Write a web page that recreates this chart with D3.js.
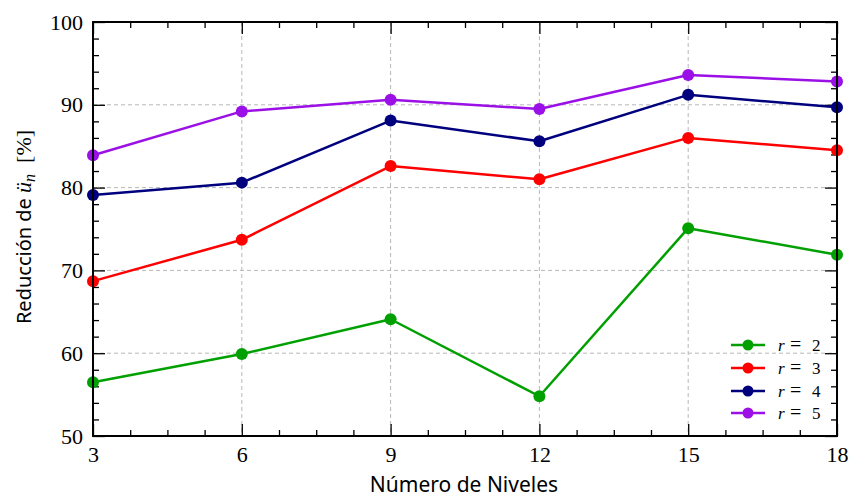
<!DOCTYPE html>
<html>
<head>
<meta charset="utf-8">
<script src="https://cdn.jsdelivr.net/npm/d3@7"></script>
<style>
  html, body { margin: 0; padding: 0; background: #fff; }
  svg { display: block; }
</style>
</head>
<body>
<svg id="chart" width="853" height="499"></svg>
<script>
// Number of levels on the x axis
const niveles = [3, 6, 9, 12, 15, 18];

// Reduction (%) for each value of r
const r2 = [56.5, 59.9, 64.1, 54.8, 75.1, 71.9];
const r3 = [68.7, 73.7, 82.6, 81.0, 86.0, 84.5];
const r4 = [79.1, 80.6, 88.1, 85.6, 91.2, 89.7];
const r5 = [83.9, 89.2, 90.6, 89.5, 93.6, 92.8];

const seriesNames = ["2", "3", "4", "5"];
const seriesValues = [r2, r3, r4, r5];
const seriesColors = ["#00a000", "#ff0000", "#00007f", "#9a10e6"];

const xTicks = [3, 6, 9, 12, 15, 18];
const yTicks = [50, 60, 70, 80, 90, 100];

const serif = "'Liberation Serif', 'DejaVu Serif', serif";
const sans = "'Noto Sans', 'DejaVu Sans', sans-serif";

const svg = d3.select("#chart");
const pLeft = 93, pRight = 837, pTop = 22, pBottom = 436;

const x = d3.scaleLinear().domain([3, 18]).range([pLeft, pRight]);
const y = d3.scaleLinear().domain([50, 100]).range([pBottom, pTop]);

const xMinor = d3.range(3, 18.001, 0.75).filter(v => !xTicks.includes(v));
const yMinor = d3.range(50, 100.001, 2).filter(v => !yTicks.includes(v));

// dashed grid at the interior major ticks
const grid = svg.append("g").attr("stroke", "#b8b8b8").attr("stroke-width", 1).attr("stroke-dasharray", "4,3");
grid.selectAll("line.gx").data(xTicks.slice(1, -1)).join("line")
  .attr("x1", d => x(d)).attr("x2", d => x(d)).attr("y1", pTop).attr("y2", pBottom);
grid.selectAll("line.gy").data(yTicks.slice(1, -1)).join("line")
  .attr("x1", pLeft).attr("x2", pRight).attr("y1", d => y(d)).attr("y2", d => y(d));

// axes: ticks point inward on all four sides
const major = 12, minor = 6;
function styleAxis(g) {
  g.select(".domain").remove();
  g.attr("font-family", serif).attr("font-size", 22);
  g.selectAll(".tick line").attr("stroke", "#000").attr("stroke-width", 1.3);
  g.selectAll(".tick text").attr("fill", "#000");
}
svg.append("g").attr("transform", `translate(0,${pBottom})`)
  .call(d3.axisBottom(x).tickValues(xTicks).tickSize(-major).tickPadding(10).tickFormat(d3.format("d")))
  .call(styleAxis);
svg.append("g").attr("transform", `translate(0,${pBottom})`)
  .call(d3.axisBottom(x).tickValues(xMinor).tickSize(-minor).tickFormat(""))
  .call(styleAxis);
svg.append("g").attr("transform", `translate(0,${pTop})`)
  .call(d3.axisTop(x).tickValues(xTicks).tickSize(-major).tickFormat(""))
  .call(styleAxis);
svg.append("g").attr("transform", `translate(0,${pTop})`)
  .call(d3.axisTop(x).tickValues(xMinor).tickSize(-minor).tickFormat(""))
  .call(styleAxis);
svg.append("g").attr("transform", `translate(${pLeft},0)`)
  .call(d3.axisLeft(y).tickValues(yTicks).tickSize(-major).tickPadding(10).tickFormat(d3.format("d")))
  .call(styleAxis);
svg.append("g").attr("transform", `translate(${pLeft},0)`)
  .call(d3.axisLeft(y).tickValues(yMinor).tickSize(-minor).tickFormat(""))
  .call(styleAxis);
svg.append("g").attr("transform", `translate(${pRight},0)`)
  .call(d3.axisRight(y).tickValues(yTicks).tickSize(-major).tickFormat(""))
  .call(styleAxis);
svg.append("g").attr("transform", `translate(${pRight},0)`)
  .call(d3.axisRight(y).tickValues(yMinor).tickSize(-minor).tickFormat(""))
  .call(styleAxis);

// series lines and markers
const line = d3.line().x((d, i) => x(niveles[i])).y(d => y(d));
const plot = svg.append("g");
seriesValues.forEach((vals, k) => {
  plot.append("path").attr("d", line(vals)).attr("fill", "none")
    .attr("stroke", seriesColors[k]).attr("stroke-width", 2.5).attr("stroke-linejoin", "round");
  plot.selectAll(null).data(vals).join("circle")
    .attr("cx", (d, i) => x(niveles[i])).attr("cy", d => y(d)).attr("r", 6)
    .attr("fill", seriesColors[k]);
});

// frame
svg.append("rect").attr("x", pLeft).attr("y", pTop).attr("width", pRight - pLeft).attr("height", pBottom - pTop)
  .attr("fill", "none").attr("stroke", "#000").attr("stroke-width", 2);

// legend
const legend = svg.append("g");
const ly = [345, 368, 391, 413];
seriesNames.forEach((name, k) => {
  const g = legend.append("g").attr("transform", `translate(0,${ly[k]})`);
  g.append("line").attr("x1", 731).attr("x2", 765).attr("y1", 0).attr("y2", 0)
    .attr("stroke", seriesColors[k]).attr("stroke-width", 2.5);
  g.append("circle").attr("cx", 748).attr("cy", 0).attr("r", 5.5).attr("fill", seriesColors[k]);
  const t = g.append("text").attr("y", 5.5)
    .attr("font-family", serif).attr("font-size", 17);
  t.append("tspan").attr("x", 778).attr("font-style", "italic").text("r");
  t.append("tspan").attr("x", 790).attr("font-size", 20).text("=");
  t.append("tspan").attr("x", 812).text(name);
});

// axis titles
svg.append("text").attr("x", (pLeft + pRight) / 2 - 1).attr("y", 492).attr("text-anchor", "middle")
  .attr("font-family", sans).attr("font-size", 21)
  .text("Número de Niveles");

const yl = svg.append("text").attr("transform", `translate(31,${(pTop + pBottom) / 2 - 2}) rotate(-90)`)
  .attr("text-anchor", "middle").attr("font-size", 20);
yl.append("tspan").attr("font-family", sans).text("Reducción de ");
yl.append("tspan").attr("font-family", serif).attr("font-style", "italic").attr("font-size", 22).text("ü");
yl.append("tspan").attr("font-family", serif).attr("font-style", "italic").attr("font-size", 16).attr("dy", 4).text("n");
yl.append("tspan").attr("font-family", serif).attr("font-size", 22).attr("dy", -4).text("\u2002[%]");
</script>
</body>
</html>
